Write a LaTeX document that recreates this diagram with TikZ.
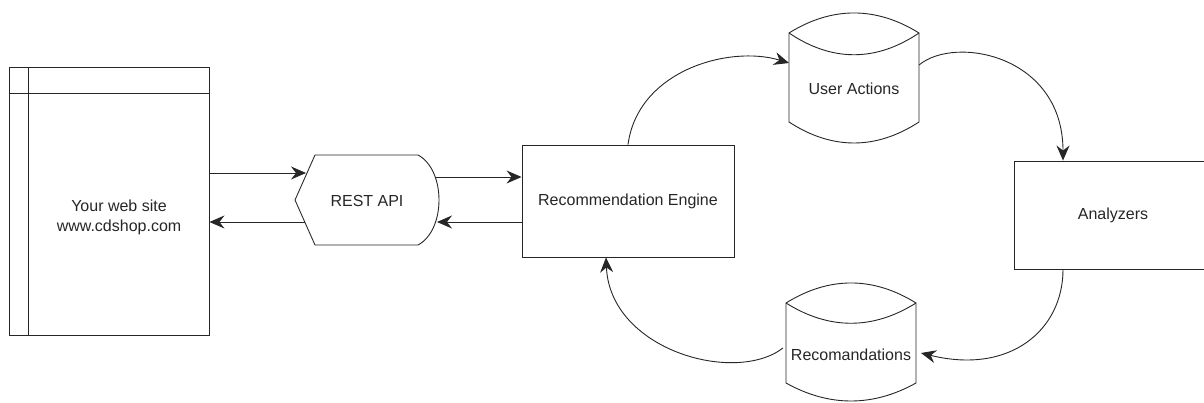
\documentclass[tikz,border=0pt]{standalone}
\usepackage{fontspec}
\setmainfont{Liberation Sans}
\usetikzlibrary{arrows.meta}
\begin{document}
\begin{tikzpicture}[x=1pt,y=-1pt,line width=0.9pt,draw=black!85,
  txt/.style={inner sep=0pt,align=center,font=\fontsize{16}{20}\selectfont,text=black!85},
  box/.style={draw=black!85,rectangle,inner sep=0pt,align=center,font=\fontsize{16}{20}\selectfont,text=black!85},
  link/.style={draw=black!85,-{Stealth[length=15pt,width=13pt,inset=5pt]}}]
\useasboundingbox (0,0) rectangle (1204,403);
% web site
\node[box,minimum width=200pt,minimum height=268pt] (web) at (109,201.5) {};
\draw ([xshift=20pt]web.north west) -- ([xshift=20pt]web.south west);
\draw ([yshift=-26pt]web.north west) -- ([yshift=-26pt]web.north east);
\node[txt] (webtxt) at (119,217) {Your web site\\www.cdshop.com};
% REST API
\draw (315,155) -- (418,155) .. controls (446,170) and (446,230) .. (418,245) -- (315,245) -- (295,200) -- cycle;
\node[txt] (api) at (367,201) {REST API};
\coordinate (p1) at (306,173);
\coordinate (p2) at (305,222);
\coordinate (p3) at (436,177);
\coordinate (p4) at (437,222);
% Recommendation engine
\node[box,minimum width=212pt,minimum height=112pt] (rec) at (628,201) {Recommendation Engine};
% User Actions
\draw (789,33) .. controls (832,6.3) and (876,6.3) .. (919,33) -- (919,122) .. controls (876,150) and (832,150) .. (789,122) -- cycle;
\draw (789,33) .. controls (832,62) and (876,62) .. (919,33);
\node[txt] (ua) at (854,89) {User Actions};
\coordinate (uain) at (789,63);
\coordinate (uaout) at (919,65);
% Recomandations
\draw (786,303) .. controls (829,276.3) and (873,276.3) .. (916,303) -- (916,383) .. controls (873,407) and (829,407) .. (786,383) -- cycle;
\draw (786,303) .. controls (829,330) and (873,330) .. (916,303);
\node[txt] (rc) at (851,355) {Recomandations};
\coordinate (rcin) at (921,353);
\coordinate (rcout) at (783,348);
% Analyzers
\node[box,minimum width=198pt,minimum height=108pt] (ana) at (1113,215) {Analyzers};
% connectors
\draw[link] (web.east |- p1) -- (p1);
\draw[link] (p2) -- (web.east |- p2);
\draw[link] (p3) -- (rec.west |- p3);
\draw[link] (rec.west |- p4) -- (p4);
\draw[link] (rec.north) .. controls (638,70) and (730,45) .. (uain);
\draw[link] (uaout) .. controls (955,35) and (1063,55) .. ([xshift=-50pt]ana.north);
\draw[link] ([xshift=-50pt]ana.south) .. controls (1063,330) and (1010,375) .. (rcin);
\draw[link] (rcout) .. controls (735,385) and (610,350) .. ([xshift=-22pt]rec.south);
\end{tikzpicture}
\end{document}
